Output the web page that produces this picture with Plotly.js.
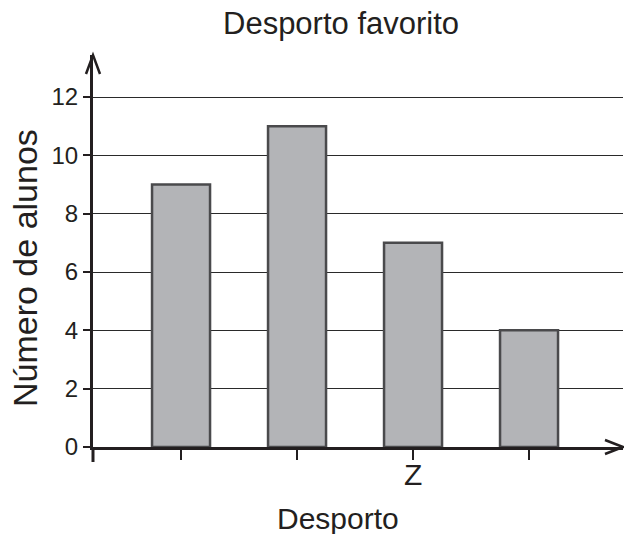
<!DOCTYPE html>
<html>
<head>
<meta charset="utf-8">
<script src="https://cdn.plot.ly/plotly-3.0.1.min.js"></script>
<style>html,body{margin:0;padding:0;background:#fff;}#chart{width:624px;height:534px;}</style>
</head>
<body>
<div id="chart"></div>
<script>
const positions = [0, 1, 2, 3];
const tickLabels = ['', '', 'Z', ''];
const alunos = [9, 11, 7, 4];
const yTicks = [0, 2, 4, 6, 8, 10, 12];

const ink = '#231f20';
const font = 'Liberation Sans, Arial, Helvetica, sans-serif';

const trace = {
  type: 'bar',
  x: positions,
  y: alunos,
  width: 0.5,
  marker: {color: '#b3b4b7', line: {color: '#4a4a4c', width: 2.5}},
  hoverinfo: 'none'
};

const layout = {
  width: 624, height: 534,
  margin: {l: 93, r: 1, t: 55, b: 87},
  paper_bgcolor: '#fff', plot_bgcolor: '#fff',
  showlegend: false,
  font: {family: font, color: ink},
  title: {text: 'Desporto favorito', font: {size: 31, color: ink, family: font},
          xref: 'paper', x: 0.468, xanchor: 'center', yref: 'container', y: 0.957, yanchor: 'middle'},
  xaxis: {
    range: [-0.759, 3.81],
    tickmode: 'array', tickvals: positions, ticktext: tickLabels,
    ticks: 'outside', ticklen: 10, tickwidth: 2.5, tickcolor: ink,
    tickfont: {size: 30, color: ink, family: font}, ticklabelstandoff: -11,
    showline: true, linecolor: ink, linewidth: 3,
    showgrid: false, zeroline: false, fixedrange: true
  },
  yaxis: {
    range: [0, 13.44],
    tickmode: 'array', tickvals: yTicks, ticktext: yTicks.map(String),
    ticks: 'outside', ticklen: 7, tickwidth: 2, tickcolor: ink,
    tickfont: {size: 24, color: ink, family: font}, ticklabelstandoff: 0,
    showline: true, linecolor: ink, linewidth: 3,
    showgrid: true, gridcolor: '#2a2a2a', gridwidth: 1,
    zeroline: false, fixedrange: true
  },
  annotations: [
    {text: 'Desporto', xref: 'paper', yref: 'paper', x: (337.5 - 93) / 530, y: -(518 - 447) / 392,
     xanchor: 'center', yanchor: 'middle', showarrow: false, font: {size: 30, color: ink}},
    {text: 'Número de alunos', xref: 'paper', yref: 'paper', x: -(93 - 25) / 530, y: (447 - 268) / 392,
     xanchor: 'center', yanchor: 'middle', textangle: -90, showarrow: false, font: {size: 34, color: ink}}
  ],
  shapes: [
    {type: 'line', xref: 'paper', yref: 'paper', x0: 0, x1: 0, y0: -15 / 392, y1: 0,
     line: {color: ink, width: 3}},
    {type: 'path', xref: 'paper', yref: 'paper', xsizemode: 'pixel', ysizemode: 'pixel',
     xanchor: 0, yanchor: 1, path: 'M -7,-19 L 0,0 L 7,-19',
     line: {color: ink, width: 2.5}},
    {type: 'path', xref: 'paper', yref: 'paper', xsizemode: 'pixel', ysizemode: 'pixel',
     xanchor: 1, yanchor: 0, path: 'M -18,7 L 0,0 L -18,-7',
     line: {color: ink, width: 2.5}}
  ]
};

Plotly.newPlot('chart', [trace], layout, {staticPlot: true, displayModeBar: false});
</script>
</body>
</html>
